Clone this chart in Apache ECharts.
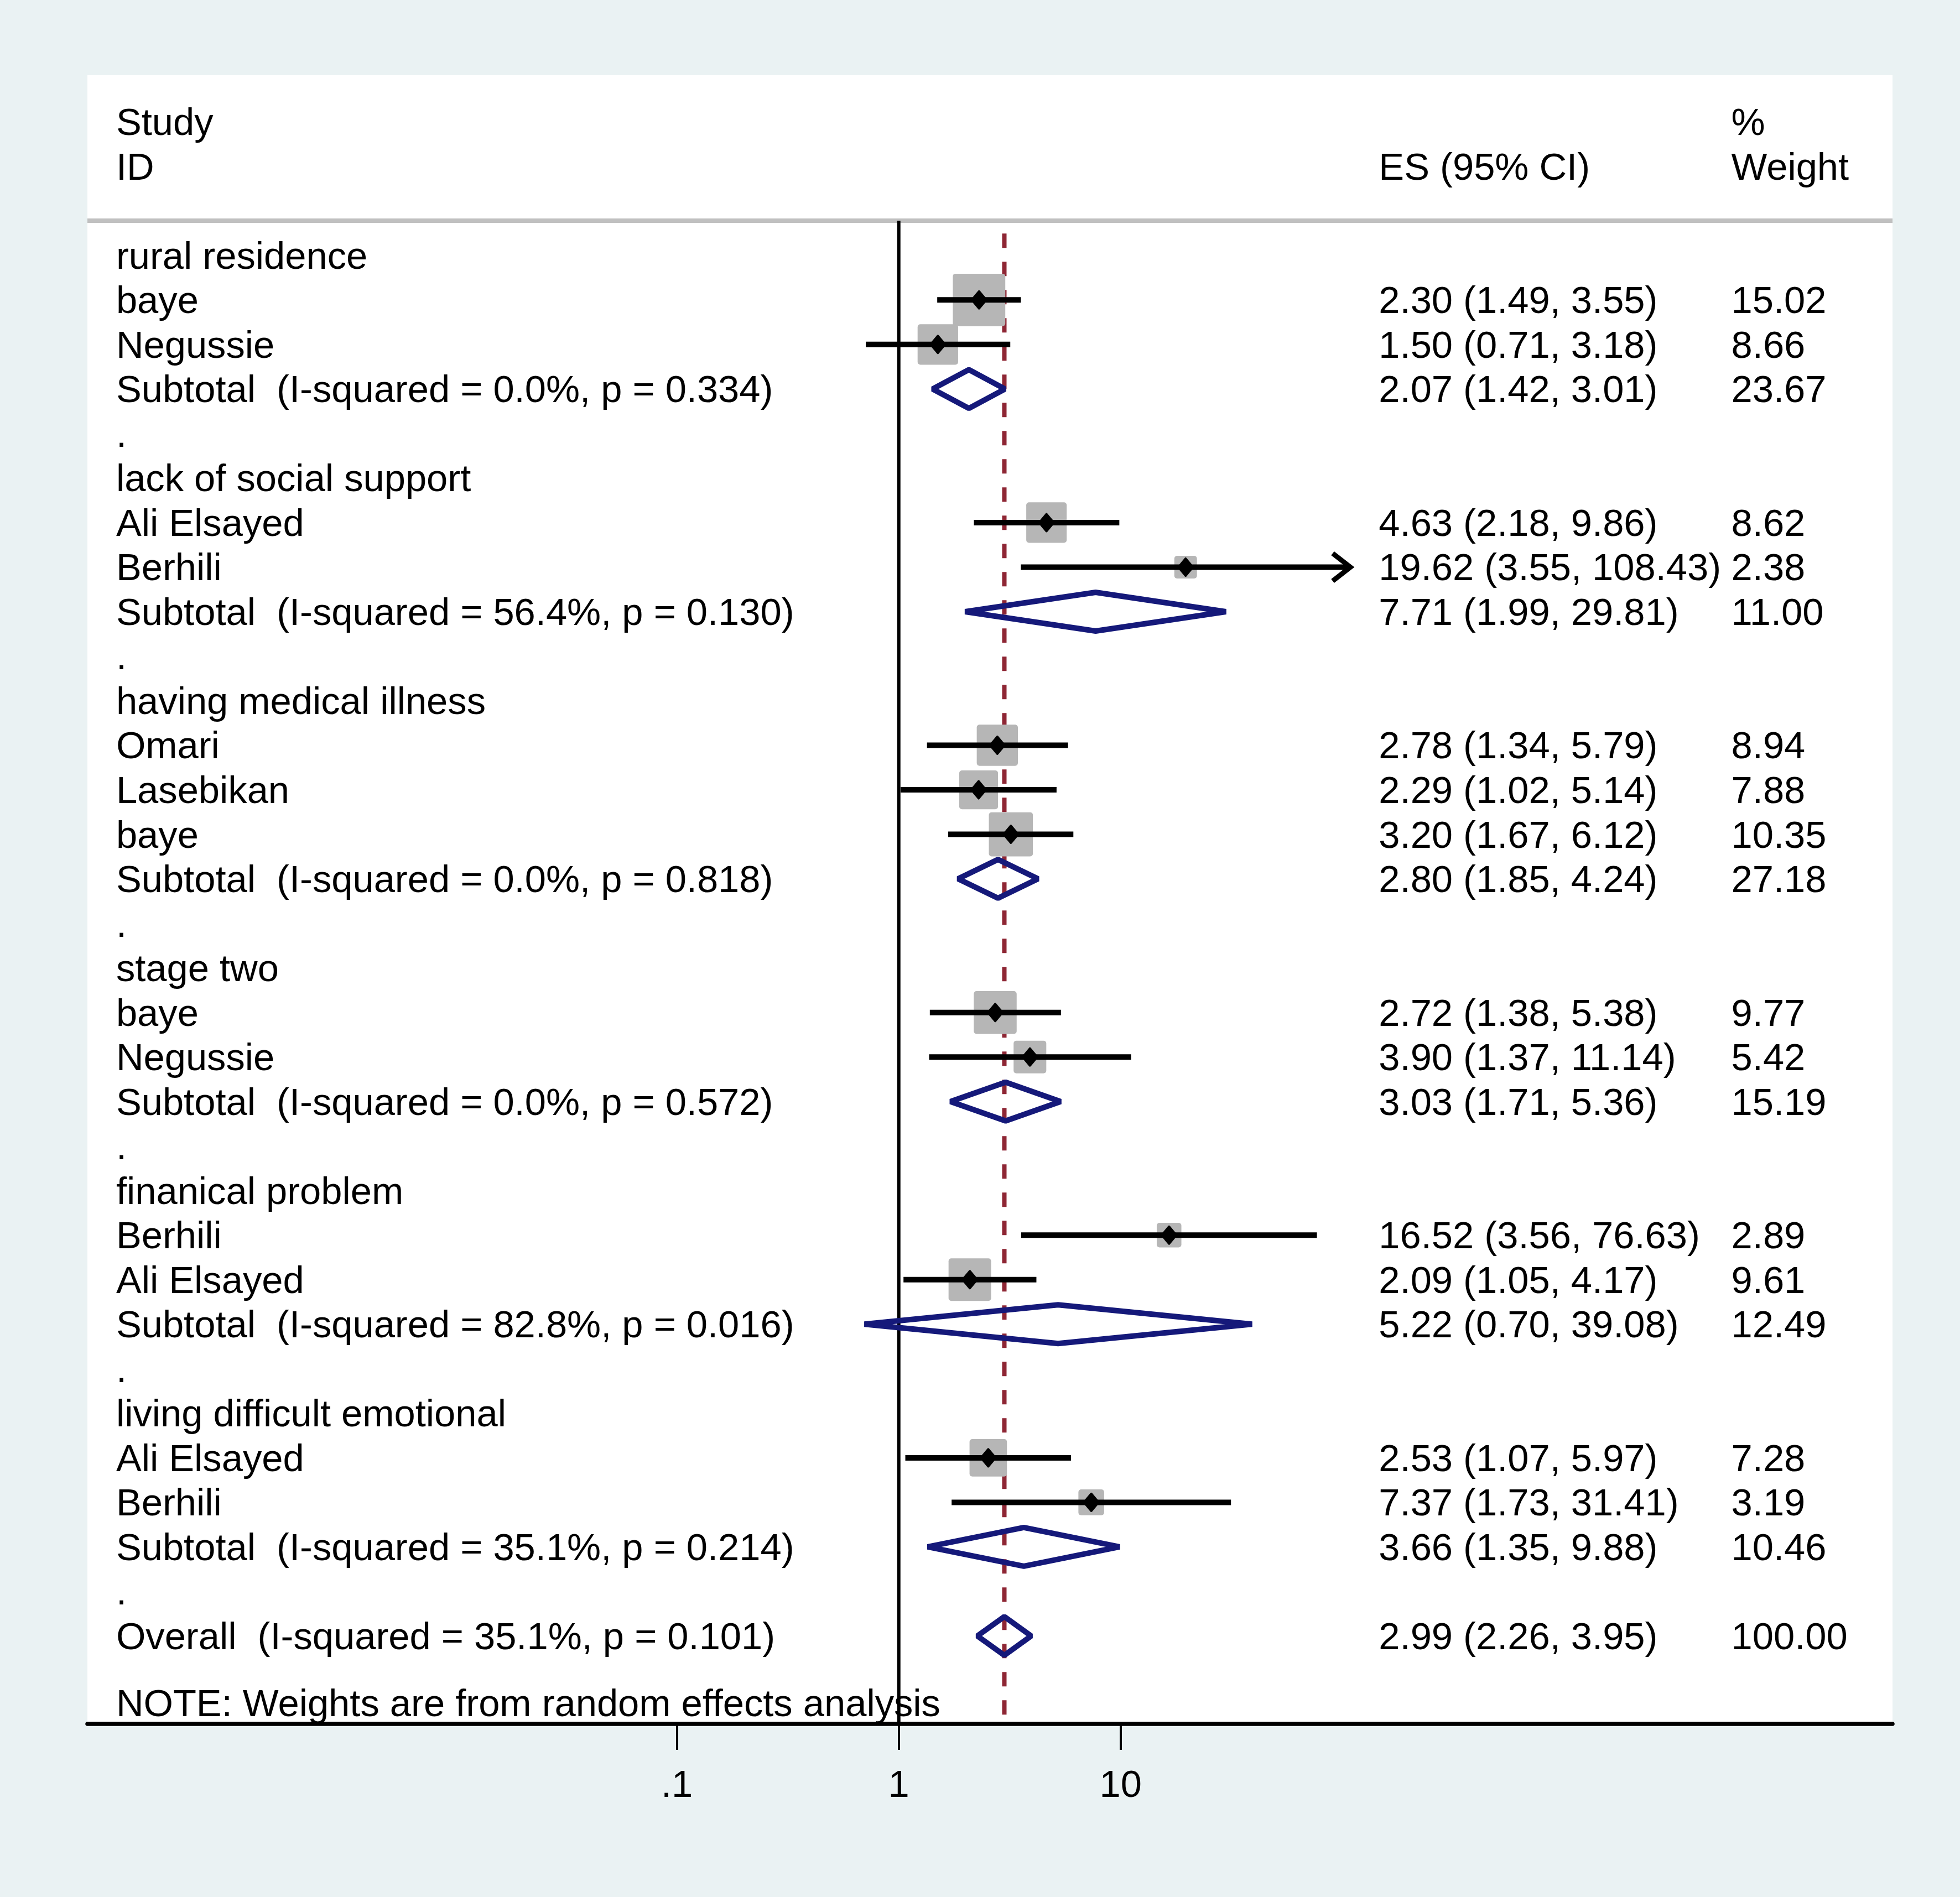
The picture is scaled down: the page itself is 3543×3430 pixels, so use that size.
<!DOCTYPE html>
<html><head><meta charset="utf-8">
<script src="https://cdn.jsdelivr.net/npm/echarts@6/dist/echarts.min.js"></script>
<style>html,body{margin:0;padding:0;background:#EAF2F3;}#c{width:3543px;height:3430px;}</style>
</head><body><div id="c"></div>
<script>
// ---- data ----
const rowLabels = [
  'rural residence', 'baye', 'Negussie', 'Subtotal  (I-squared = 0.0%, p = 0.334)', '.',
  'lack of social support', 'Ali Elsayed', 'Berhili', 'Subtotal  (I-squared = 56.4%, p = 0.130)', '.',
  'having medical illness', 'Omari', 'Lasebikan', 'baye', 'Subtotal  (I-squared = 0.0%, p = 0.818)', '.',
  'stage two', 'baye', 'Negussie', 'Subtotal  (I-squared = 0.0%, p = 0.572)', '.',
  'finanical problem', 'Berhili', 'Ali Elsayed', 'Subtotal  (I-squared = 82.8%, p = 0.016)', '.',
  'living difficult emotional', 'Ali Elsayed', 'Berhili', 'Subtotal  (I-squared = 35.1%, p = 0.214)', '.',
  'Overall  (I-squared = 35.1%, p = 0.101)'
];
// g = group heading, s = study, d = subtotal, b = blank, o = overall
const rowKinds = ['g','s','s','d','b','g','s','s','d','b','g','s','s','s','d','b','g','s','s','d','b','g','s','s','d','b','g','s','s','d','b','o'];
const esValues = [null,2.30,1.50,2.07,null,null,4.63,19.62,7.71,null,null,2.78,2.29,3.20,2.80,null,null,2.72,3.90,3.03,null,null,16.52,2.09,5.22,null,null,2.53,7.37,3.66,null,2.99];
const ciLower  = [null,1.49,0.71,1.42,null,null,2.18,3.55,1.99,null,null,1.34,1.02,1.67,1.85,null,null,1.38,1.37,1.71,null,null,3.56,1.05,0.70,null,null,1.07,1.73,1.35,null,2.26];
const ciUpper  = [null,3.55,3.18,3.01,null,null,9.86,108.43,29.81,null,null,5.79,5.14,6.12,4.24,null,null,5.38,11.14,5.36,null,null,76.63,4.17,39.08,null,null,5.97,31.41,9.88,null,3.95];
const weights  = [null,15.02,8.66,23.67,null,null,8.62,2.38,11.00,null,null,8.94,7.88,10.35,27.18,null,null,9.77,5.42,15.19,null,null,2.89,9.61,12.49,null,null,7.28,3.19,10.46,null,100.00];
const xTickValues = [0.1, 1, 10];
const xTickLabels = ['.1', '1', '10'];
const headerStudy = ['Study', 'ID'];
const headerES = 'ES (95% CI)';
const headerWeight = ['%', 'Weight'];
const noteText = 'NOTE: Weights are from random effects analysis';

// ---- layout ----
const FONT = '68.7px "Liberation Sans", Arial, sans-serif';
const TEXT_DY = 5;
const COL_STUDY = 0.0159, COL_ES = 0.7154, COL_W = 0.9107;
const Y_MIN = -4.046, Y_MAX = 32.975;
const HEADER_LINE_Y = -0.78;
const REF_START_Y = -0.49;
const overallIdx = rowKinds.indexOf('o');

// text items
const texts = [];
texts.push({x: COL_STUDY, y: -3, t: headerStudy[0]});
texts.push({x: COL_STUDY, y: -2, t: headerStudy[1]});
texts.push({x: COL_ES, y: -2, t: headerES});
texts.push({x: COL_W, y: -3, t: headerWeight[0]});
texts.push({x: COL_W, y: -2, t: headerWeight[1]});
rowLabels.forEach((lab, i) => {
  texts.push({x: COL_STUDY, y: i, t: lab});
  if (esValues[i] != null) {
    texts.push({x: COL_ES, y: i, t: esValues[i].toFixed(2) + ' (' + ciLower[i].toFixed(2) + ', ' + ciUpper[i].toFixed(2) + ')'});
    texts.push({x: COL_W, y: i, t: weights[i].toFixed(2)});
  }
});
texts.push({x: COL_STUDY, y: 32.5, t: noteText});

// mark data
const markData = [];
rowKinds.forEach((k, i) => {
  if (esValues[i] == null) return;
  markData.push([esValues[i], i, ciLower[i], ciUpper[i], weights[i], k === 's' ? 0 : 1]);
});

const chart = echarts.init(document.getElementById('c'), null, {renderer: 'canvas'});
chart.setOption({
  animation: false,
  backgroundColor: '#EAF2F3',
  grid: {left: 158, right: 122, top: 136, bottom: 313, show: true, backgroundColor: '#FFFFFF', borderWidth: 0},
  xAxis: [{
    type: 'log', logBase: 10,
    min: Math.pow(10, -3.6567), max: Math.pow(10, 4.4784),
    position: 'bottom',
    splitLine: {show: false},
    axisLine: {show: true, onZero: false, lineStyle: {color: '#000', width: 7.5}},
    axisTick: {show: true, length: 47, customValues: xTickValues, lineStyle: {color: '#000', width: 4}},
    axisLabel: {
      show: true, customValues: xTickValues, margin: 79,
      fontSize: 68.7, fontFamily: '"Liberation Sans", Arial, sans-serif', color: '#000',
      formatter: function (v) { const i = xTickValues.findIndex(t => Math.abs(t - v) < 1e-9); return i >= 0 ? xTickLabels[i] : ''; }
    }
  }, {
    type: 'value', min: 0, max: 1, show: false
  }],
  yAxis: [{type: 'value', inverse: true, min: Y_MIN, max: Y_MAX, show: false}],
  series: [
    {
      type: 'line', xAxisIndex: 1, yAxisIndex: 0, symbol: 'none', z: 2,
      data: [[0, HEADER_LINE_Y], [1, HEADER_LINE_Y]],
      lineStyle: {color: '#C0C0C0', width: 8}
    },
    {
      type: 'line', xAxisIndex: 0, yAxisIndex: 0, symbol: 'none', z: 2,
      data: [[1, HEADER_LINE_Y], [1, Y_MAX]],
      lineStyle: {color: '#000', width: 6}
    },
    {
      type: 'line', xAxisIndex: 0, yAxisIndex: 0, symbol: 'none', z: 2,
      data: [[esValues[overallIdx], REF_START_Y], [esValues[overallIdx], Y_MAX]],
      lineStyle: {color: '#8E2634', width: 8, type: [26, 25]}
    },
    {
      type: 'custom', xAxisIndex: 0, yAxisIndex: 0, z: 3,
      encode: {x: 0, y: 1},
      data: markData,
      renderItem: function (params, api) {
        const es = api.value(0), row = api.value(1), lo = api.value(2), hi = api.value(3), w = api.value(4), kind = api.value(5);
        const c = api.coord([es, row]), l = api.coord([lo, row]), h = api.coord([hi, row]);
        const children = [];
        if (kind === 0) {
          const s = 5.3 + 23.1 * Math.sqrt(w);
          children.push({type: 'rect', shape: {x: c[0] - s / 2, y: c[1] - s / 2, width: s, height: s, r: 5}, style: {fill: '#B6B6B6'}});
          children.push({type: 'line', shape: {x1: l[0], y1: l[1], x2: h[0], y2: h[1]}, style: {stroke: '#000', lineWidth: 10}});
          if (hi > 100) {
            children.push({type: 'polyline', shape: {points: [[h[0] - 32, h[1] - 25], [h[0], h[1]], [h[0] - 32, h[1] + 25]]}, style: {stroke: '#000', lineWidth: 9, fill: null}});
          }
          children.push({type: 'polygon', shape: {points: [[c[0], c[1] - 15.5], [c[0] + 13, c[1]], [c[0], c[1] + 15.5], [c[0] - 13, c[1]]]}, style: {fill: '#000', stroke: '#000', lineWidth: 4, lineJoin: 'round'}});
        } else {
          children.push({type: 'polygon', shape: {points: [[l[0], c[1]], [c[0], c[1] - 35], [h[0], c[1]], [c[0], c[1] + 35]]}, style: {stroke: '#15197A', lineWidth: 10, lineJoin: 'bevel', fill: null}});
        }
        return {type: 'group', children: children};
      }
    },
    {
      type: 'custom', xAxisIndex: 1, yAxisIndex: 0, z: 4,
      encode: {x: 0, y: 1},
      data: texts.map(t => [t.x, t.y]),
      renderItem: function (params, api) {
        const item = texts[params.dataIndex];
        const p = api.coord([api.value(0), api.value(1)]);
        return {type: 'text', x: p[0], y: p[1] + TEXT_DY, style: {text: item.t, fill: '#000', font: FONT, align: 'left', verticalAlign: 'middle'}};
      }
    }
  ]
});
</script>
</body></html>
